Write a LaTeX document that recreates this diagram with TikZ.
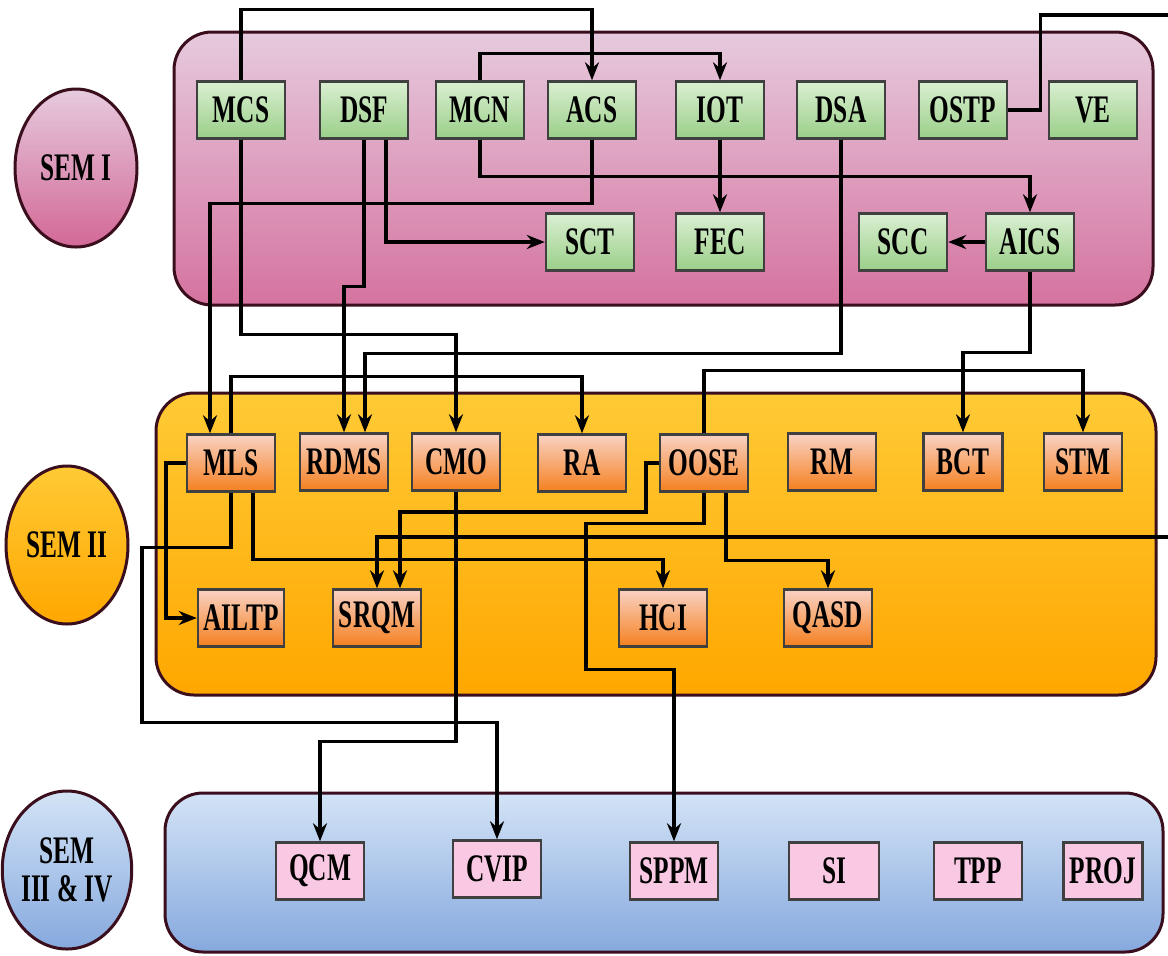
\documentclass[tikz,border=0pt]{standalone}
\usepackage{fontspec}
\setmainfont{Liberation Serif}[FakeStretch=0.65]
\usetikzlibrary{arrows.meta,calc,shapes.geometric}
\definecolor{pinkTop}{HTML}{E6CADD}
\definecolor{pinkBot}{HTML}{D5739F}
\definecolor{yelTop}{HTML}{FFCA35}
\definecolor{yelBot}{HTML}{FFA700}
\definecolor{bluTop}{HTML}{D3E3F6}
\definecolor{bluBot}{HTML}{86A9DE}
\definecolor{grnTop}{HTML}{DAEFD2}
\definecolor{grnBot}{HTML}{9ACF88}
\definecolor{orgTop}{HTML}{F9D2C4}
\definecolor{orgBot}{HTML}{F5801F}
\definecolor{lilac}{HTML}{F9C8E2}
\definecolor{rim}{HTML}{3A0E1C}
\begin{document}
\begin{tikzpicture}[x=0.5pt,y=-0.5pt,
  panel/.style={draw=rim,line width=1.5pt,rounded corners=19pt},
  sem/.style={ellipse,draw=rim,line width=1.5pt,minimum width=61pt,minimum height=79pt,inner sep=0pt,align=center,font=\fontsize{19.5}{19}\selectfont\bfseries},
  box/.style={draw=black!75,line width=1.2pt,minimum width=44pt,minimum height=28.5pt,inner sep=0pt,font=\fontsize{19.5}{19}\selectfont\bfseries},
  grn/.style={box,top color=grnTop,bottom color=grnBot},
  org/.style={box,top color=orgTop,bottom color=orgBot},
  lil/.style={box,fill=lilac},
  link/.style={line width=1.7pt},
  arr/.style={line width=1.7pt,-{Stealth[length=9pt,width=7pt]}}]
\useasboundingbox (0,0) rectangle (1168,955);
\draw[panel,top color=pinkTop,bottom color=pinkBot] (174,32) rectangle (1153,305); % SEM I
\draw[panel,top color=yelTop,bottom color=yelBot] (156,393) rectangle (1156,695); % SEM II
\draw[panel,top color=bluTop,bottom color=bluBot] (165,793) rectangle (1163,952); % SEM III & IV
\node[sem,top color=pinkTop,bottom color=pinkBot!90!purple] (s1) at (76,168) {SEM I};
\node[sem,top color=yelTop,bottom color=yelBot] (s2) at (67,545) {SEM II};
\node[sem,top color=bluTop,bottom color=bluBot] (s3) at (67,870) {SEM\\III \& IV};
% SEM I
\node[grn] (MCS) at (241,110) {MCS};
\node[grn] (DSF) at (364,110) {DSF};
\node[grn] (MCN) at (480,110) {MCN};
\node[grn] (ACS) at (592,110) {ACS};
\node[grn] (IOT) at (720,110) {IOT};
\node[grn] (DSA) at (841,110) {DSA};
\node[grn] (OSTP) at (963,110) {OSTP};
\node[grn] (VE) at (1093,110) {VE};
\node[grn] (SCT) at (590,242) {SCT};
\node[grn] (FEC) at (720,242) {FEC};
\node[grn] (SCC) at (903,242) {SCC};
\node[grn] (AICS) at (1030,242) {AICS};
% SEM II
\node[org] (MLS) at (231,463) {MLS};
\node[org] (RDMS) at (344,462) {RDMS};
\node[org] (CMO) at (456,462) {CMO};
\node[org] (RA) at (582,463) {RA};
\node[org] (OOSE) at (704,463) {OOSE};
\node[org] (RM) at (832,462) {RM};
\node[org,minimum width=39.5pt] (BCT) at (963,462) {BCT};
\node[org,minimum width=39pt] (STM) at (1083,462) {STM};
\node[org,minimum width=43pt] (AILTP) at (241,618) {AILTP};
\node[org] (SRQM) at (377,618) {SRQM};
\node[org] (HCI) at (663,618) {HCI};
\node[org] (QASD) at (828,618) {QASD};
% SEM III & IV
\node[lil] (QCM) at (320,871) {QCM};
\node[lil] (CVIP) at (497,869) {CVIP};
\node[lil] (SPPM) at (674,871) {SPPM};
\node[lil,minimum width=45pt] (SI) at (834,871) {SI};
\node[lil] (TPP) at (978,871) {TPP};
\node[lil,minimum width=39.5pt] (PROJ) at (1103,871) {PROJ};
\coordinate (outR) at (1168,15);
\coordinate (inR) at (1168,537);
% links
\draw[arr] (MCS.north) -- ++(0,-71) -| (ACS.north);
\draw[arr] (MCN.north) -- ++(0,-27) -| (IOT.north);
\draw[arr] ($(DSF.south)+(22,0)$) |- (SCT.west);
\draw[arr] (IOT.south) -- (FEC.north);
\draw[arr] (MCN.south) -- ++(0,37) -| (AICS.north);
\draw[arr] (AICS.west) -- (SCC.east);
\draw[arr] (ACS.south) -- ++(0,64) -| ($(MLS.north)+(-21,0)$);
\draw[arr] (DSF.south) -- ++(0,147) -| (RDMS.north);
\draw[arr] (MCS.south) -- ++(0,195) -| (CMO.north);
\draw[arr] (DSA.south) -- ++(0,214) -| ($(RDMS.north)+(21,0)$);
\draw[arr] (AICS.south) -- ++(0,81) -| (BCT.north);
\draw[link] (OSTP.east) -- ++(32,0) |- (outR);
\draw[arr] (MLS.north) -- ++(0,-57) -| (RA.north);
\draw[arr] (OOSE.north) -- ++(0,-63) -| (STM.north);
\draw[arr] (MLS.west) -- ++(-20,0) |- (AILTP.west);
\draw[arr] (MLS.south) -- ++(0,55) -- ++(-89,0) -- ++(0,175) -| (CVIP.north);
\draw[arr] ($(MLS.south)+(22,0)$) -- ++(0,67) -| (HCI.north);
\draw[arr] (CMO.south) -- ++(0,250) -| (QCM.north);
\draw[arr] (OOSE.west) -- ++(-13,0) -- ++(0,49) -| ($(SRQM.north)+(23,0)$);
\draw[arr] (OOSE.south) -- ++(0,31) -- ++(-118,0) -- ++(0,146) -| (SPPM.north);
\draw[arr] ($(OOSE.south)+(22,0)$) -- ++(0,68) -| (QASD.north);
\draw[arr] (inR) -| (SRQM.north);
\end{tikzpicture}
\end{document}
